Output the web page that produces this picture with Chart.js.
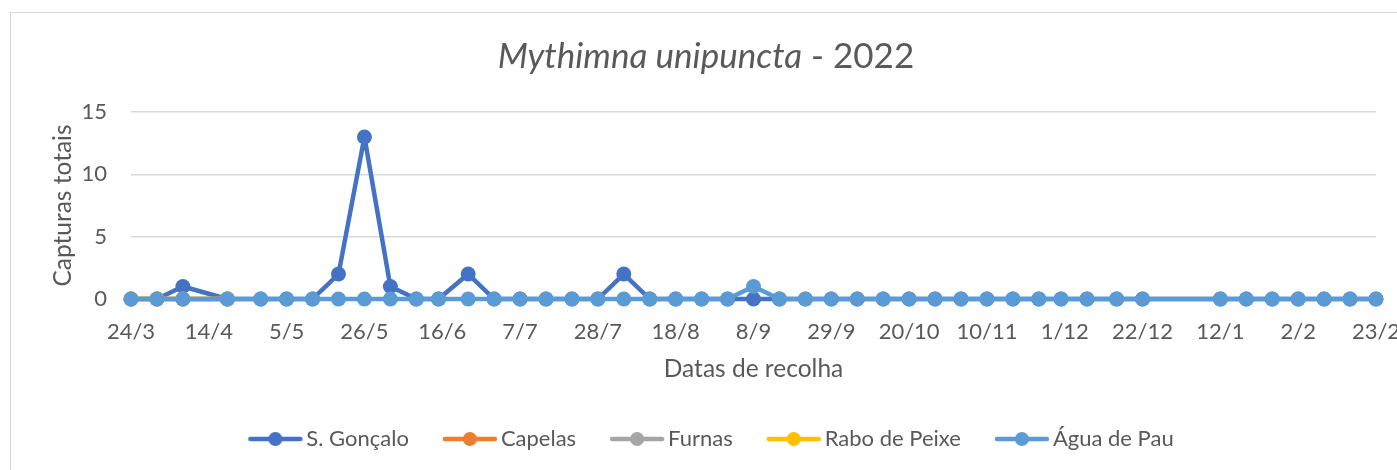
<!DOCTYPE html>
<html lang="pt">
<head>
<meta charset="utf-8">
<title>Mythimna unipuncta - 2022</title>
<script src="https://cdn.jsdelivr.net/npm/chart.js@4.4.1/dist/chart.umd.min.js"></script>
<style>
  html, body { margin: 0; padding: 0; background: #fff; overflow: hidden; }
  #frame { position: absolute; left: 10px; top: 12px; width: 1400px; height: 470px; border: 1px solid #d9d9d9; }
  #mothChart { position: absolute; left: 0; top: 0; }
</style>
</head>
<body>
<div id="frame"></div>
<canvas id="mothChart" width="1397" height="470"></canvas>
<script>
// collection dates (datas de recolha)
const collectDates = [
  '2022-03-24', '2022-03-31', '2022-04-07', '2022-04-19', '2022-04-28',
  '2022-05-05', '2022-05-12', '2022-05-19', '2022-05-26', '2022-06-02',
  '2022-06-09', '2022-06-15', '2022-06-23', '2022-06-30', '2022-07-07',
  '2022-07-14', '2022-07-21', '2022-07-28', '2022-08-04', '2022-08-11',
  '2022-08-18', '2022-08-25', '2022-09-01', '2022-09-08', '2022-09-15',
  '2022-09-22', '2022-09-29', '2022-10-06', '2022-10-13', '2022-10-20',
  '2022-10-27', '2022-11-03', '2022-11-10', '2022-11-17', '2022-11-24',
  '2022-11-30', '2022-12-07', '2022-12-15', '2022-12-22', '2023-01-12',
  '2023-01-19', '2023-01-26', '2023-02-02', '2023-02-09', '2023-02-16',
  '2023-02-23'
];

const sGoncalo = [
  0, 0, 1, 0, 0, 0, 0, 2, 13, 1,
  0, 0, 2, 0, 0, 0, 0, 0, 2, 0,
  0, 0, 0, 0, 0, 0, 0, 0, 0, 0,
  0, 0, 0, 0, 0, 0, 0, 0, 0, 0,
  0, 0, 0, 0, 0, 0
];
const capelas = [0, 0, 0, 0];
const furnas = [0, 0, 0, 0];
const raboDePeixe = [0, 0, 0, 0];
const aguaDePau = [
  0, 0, 0, 0, 0, 0, 0, 0, 0, 0,
  0, 0, 0, 0, 0, 0, 0, 0, 0, 0,
  0, 0, 0, 1, 0, 0, 0, 0, 0, 0,
  0, 0, 0, 0, 0, 0, 0, 0, 0, 0,
  0, 0, 0, 0, 0, 0
];

const seriesNames = ['S. Gonçalo', 'Capelas', 'Furnas', 'Rabo de Peixe', 'Água de Pau'];
const seriesValues = [sGoncalo, capelas, furnas, raboDePeixe, aguaDePau];
const seriesColors = ['#4472C4', '#ED7D31', '#A5A5A5', '#FFC000', '#5B9BD5'];

const xTickLabels = ['24/3', '14/4', '5/5', '26/5', '16/6', '7/7', '28/7', '18/8', '8/9',
  '29/9', '20/10', '10/11', '1/12', '22/12', '12/1', '2/2', '23/2'];
const tickStepDays = 21;
const yTicks = [0, 5, 10, 15];

const textColor = '#595959';

// days since the first collection
function dayOffset(iso) {
  const [y, m, d] = iso.split('-').map(Number);
  return Math.round((Date.UTC(y, m - 1, d) - Date.UTC(2022, 2, 24)) / 86400000);
}

function legendIcon(color) {
  const c = document.createElement('canvas');
  c.width = 56;
  c.height = 16;
  const g = c.getContext('2d');
  g.strokeStyle = color;
  g.lineWidth = 4.5;
  g.lineCap = 'round';
  g.beginPath();
  g.moveTo(3, 8);
  g.lineTo(53, 8);
  g.stroke();
  g.fillStyle = color;
  g.beginPath();
  g.arc(28, 8, 7, 0, Math.PI * 2);
  g.fill();
  return c;
}
const legendIcons = seriesColors.map(legendIcon);

// title with italic species name
const splitTitle = {
  id: 'splitTitle',
  afterDraw(chart) {
    const ctx = chart.ctx;
    const part1 = 'Mythimna unipuncta';
    const part2 = ' - 2022';
    ctx.save();
    ctx.fillStyle = textColor;
    ctx.textBaseline = 'alphabetic';
    ctx.font = 'italic 35px Lato';
    const w1 = ctx.measureText(part1).width;
    ctx.font = '35px Lato';
    const w2 = ctx.measureText(part2).width;
    let x = 706 - (w1 + w2) / 2;
    ctx.font = 'italic 35px Lato';
    ctx.fillText(part1, x, 68);
    ctx.font = '35px Lato';
    ctx.fillText(part2, x + w1, 68);
    ctx.restore();
  }
};

Chart.defaults.font.family = 'Lato';
Chart.defaults.font.size = 22;
Chart.defaults.color = textColor;

const datasets = seriesNames.map((name, i) => ({
  label: name,
  data: seriesValues[i].map((v, j) => ({ x: dayOffset(collectDates[j]), y: v })),
  borderColor: seriesColors[i],
  backgroundColor: seriesColors[i],
  pointBackgroundColor: seriesColors[i],
  pointBorderColor: seriesColors[i],
  borderWidth: 4.5,
  pointRadius: 7.5,
  pointBorderWidth: 0,
  borderJoinStyle: 'round',
  order: seriesNames.length - i,
  clip: false
}));

new Chart(document.getElementById('mothChart'), {
  type: 'line',
  data: { datasets: datasets },
  options: {
    responsive: false,
    animation: false,
    events: [],
    layout: { padding: { top: 112, left: 32, right: 0, bottom: 10 } },
    scales: {
      x: {
        type: 'linear',
        min: 0,
        max: (xTickLabels.length - 1) * tickStepDays,
        afterBuildTicks: axis => {
          axis.ticks = xTickLabels.map((_, i) => ({ value: i * tickStepDays }));
        },
        ticks: {
          callback: v => xTickLabels[Math.round(v / tickStepDays)],
          padding: 20,
          maxRotation: 0,
          autoSkip: false
        },
        grid: { display: false, drawTicks: false },
        border: { display: false },
        title: {
          display: true, text: 'Datas de recolha',
          font: { size: 24.5 }, padding: { top: 0, bottom: 3 }
        },
        afterFit: s => { s.height = 88; s.paddingRight = 21; }
      },
      y: {
        min: 0,
        max: 15,
        afterBuildTicks: axis => {
          axis.ticks = yTicks.map(v => ({ value: v }));
        },
        ticks: { padding: 24 },
        grid: { color: '#d9d9d9', lineWidth: 1.5, drawTicks: false },
        border: { display: false },
        title: {
          display: true, text: 'Capturas totais',
          font: { size: 24.5 }, padding: { top: 16, bottom: 0 }
        },
        afterFit: s => { s.width = 99; }
      }
    },
    plugins: {
      tooltip: { enabled: false },
      legend: {
        position: 'bottom',
        labels: {
          usePointStyle: true,
          pointStyleWidth: 40,
          padding: 41,
          color: textColor,
          sort: (a, b) => a.datasetIndex - b.datasetIndex,
          generateLabels: chart => Chart.defaults.plugins.legend.labels.generateLabels(chart)
            .map(item => Object.assign(item, { pointStyle: legendIcons[item.datasetIndex] }))
        }
      }
    }
  },
  plugins: [splitTitle]
});
</script>
</body>
</html>
